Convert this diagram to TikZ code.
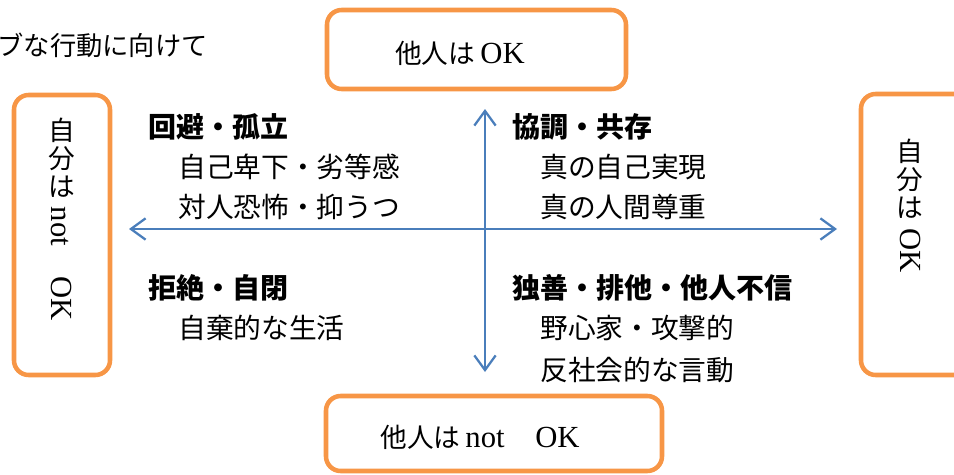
\documentclass[tikz,border=0pt]{standalone}
\usepackage{fontspec}
\setmainfont{Liberation Serif}
\newfontfamily\jp{Noto Sans CJK JP}
\usetikzlibrary{arrows.meta}
\definecolor{boxorange}{HTML}{F79646}
\definecolor{arrowblue}{HTML}{4A7EBB}
\tikzset{
  okbox/.style={draw=boxorange, line width=3.4pt, rounded corners=11pt},
  axis/.style={draw=arrowblue, line width=1.7pt, {Straight Barb[length=11pt,width=16pt]}-{Straight Barb[length=11pt,width=16pt]}},
  head/.style={font=\jp\bfseries\fontsize{21}{25}\selectfont, anchor=west, inner sep=0pt},
  item/.style={font=\jp\fontsize{20.8}{25}\selectfont, anchor=west, inner sep=0pt},
  boxtxt/.style={font=\fontsize{23}{27}\selectfont, inner sep=0pt},
  vch/.style={font=\jp\fontsize{20}{24}\selectfont, inner sep=0pt},
  vlat/.style={font=\fontsize{23}{27}\selectfont, inner sep=0pt, rotate=-90},
}
\begin{document}
\begin{tikzpicture}[x=0.75pt,y=-0.75pt]
\useasboundingbox (0,0) rectangle (954,475);
\clip (0,0) rectangle (954,475);
% title (cut off)
\node[font=\jp\fontsize{19.7}{23}\selectfont, anchor=east, inner sep=0pt] (title) at (208,45) {ブな行動に向けて};
% boxes
\draw[okbox] (327,10) rectangle (626,89);
\node[boxtxt] (top) at (460,53) {{\jp\fontsize{20}{24}\selectfont 他人は}\,OK};
\draw[okbox] (326,396) rectangle (662,471);
\node[boxtxt] (bottom) at (480,437) {{\jp\fontsize{20}{24}\selectfont 他人は}\,not\quad OK};
\draw[okbox] (14,95) rectangle (110,375);
\node[vch] (l1) at (62,130) {自};
\node[vch] (l2) at (62,159) {分};
\node[vch] (l3) at (62,187) {は};
\node[vlat] (l4) at (62,264) {not\quad OK};
\draw[okbox] (861,94) rectangle (1000,375);
\node[vch] (r1) at (910,151) {自};
\node[vch] (r2) at (910,180) {分};
\node[vch] (r3) at (910,208) {は};
\node[vlat] (r4) at (910,251) {OK};
% axes
\coordinate (hl) at (129,229);
\coordinate (hr) at (837,229);
\coordinate (vt) at (485,109);
\coordinate (vb) at (485,372);
\draw[axis] (hl) -- (hr);
\draw[axis] (vt) -- (vb);
% quadrant texts
\node[head] (q1h) at (148,127) {回避・孤立};
\node[item] (q1a) at (178,167) {自己卑下・劣等感};
\node[item] (q1b) at (178,207) {対人恐怖・抑うつ};
\node[head] (q2h) at (512,127) {協調・共存};
\node[item] (q2a) at (540,167) {真の自己実現};
\node[item] (q2b) at (540,207) {真の人間尊重};
\node[head] (q3h) at (148,288) {拒絶・自閉};
\node[item] (q3a) at (178,328) {自棄的な生活};
\node[head] (q4h) at (512,288) {独善・排他・他人不信};
\node[item] (q4a) at (540,328) {野心家・攻撃的};
\node[item] (q4b) at (540,370) {反社会的な言動};
\end{tikzpicture}
\end{document}
